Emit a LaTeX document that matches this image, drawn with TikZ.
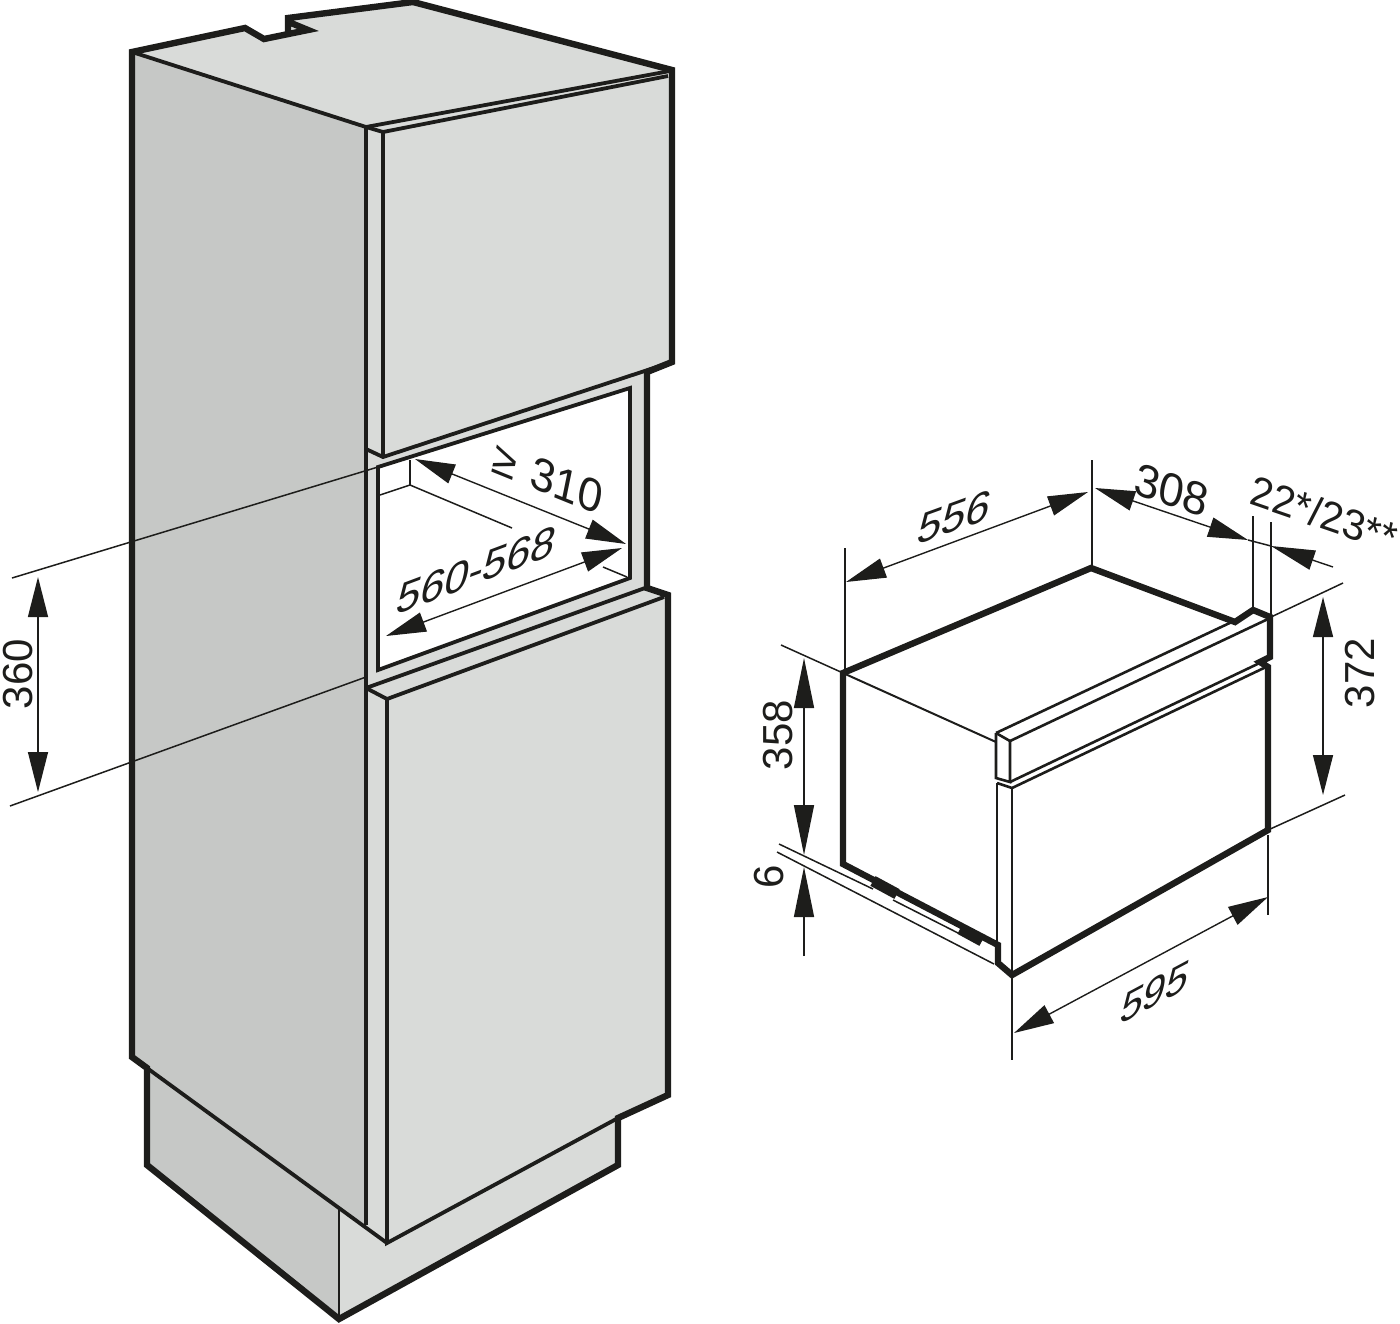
\documentclass[tikz,border=0pt]{standalone}
\usepackage{fontspec}
\setmainfont{Liberation Sans}
\usetikzlibrary{arrows.meta}
\definecolor{ink}{HTML}{1D1D1B}
\definecolor{sidegrey}{HTML}{C6C8C6}
\definecolor{frontgrey}{HTML}{D9DBD9}
\tikzset{
  heavy/.style={draw=ink,line width=3.2pt,line join=miter,line cap=round},
  medium/.style={draw=ink,line width=1.9pt,line join=miter},
  thinpanel/.style={draw=ink,line width=1.3pt,line join=miter},
  fine/.style={draw=ink,line width=.75pt},
  dimline/.style={draw=ink,line width=.7pt,{Triangle[length=20pt,width=10pt]}-{Triangle[length=20pt,width=10pt]}},
  longdim/.style={draw=ink,line width=.7pt,{Triangle[length=25pt,width=10pt]}-{Triangle[length=25pt,width=10pt]}},
  onedim/.style={draw=ink,line width=.7pt,-{Triangle[length=25pt,width=10pt]}},
  endtip/.style={draw=ink,line width=.7pt,-{Triangle[length=22pt,width=10pt]}},
  dimtext/.style={font=\fontsize{21}{21}\selectfont,text=ink,inner sep=0pt},
  tilttext/.style={font=\fontsize{23}{23}\selectfont,text=ink,inner sep=0pt},
  up/.style={dimtext,rotate=90},
}
\begin{document}
\begin{tikzpicture}[x=.5pt,y=-.5pt]
\useasboundingbox (0,0) rectangle (1400,1323);
% ---------- cabinet fills
\fill[sidegrey] (132,52) -- (366,127) -- (366,1225) -- (339,1207) -- (339,1318) -- (147,1165) -- (147,1068) -- (132,1057) -- cycle;
\fill[frontgrey] (132,52) -- (245,28) -- (264,39) -- (288,33) -- (288,18) -- (413,2) -- (670,70) -- (672,362) -- (647,372) -- (647,588) -- (668,595) -- (668,1095) -- (618,1118) -- (618,1165) -- (339,1318) -- (339,1207) -- (366,1225) -- (366,127) -- cycle;
\fill[white] (378,467) -- (630,388) -- (630,578) -- (378,670) -- cycle;
% ---------- opening details
\draw[fine] (410,460) -- (410,485);
\draw[fine] (380,495) -- (410,485) -- (512,528);
\draw[fine] (603,567) -- (627,577);
\draw[medium] (378,670) -- (378,467) -- (630,388) -- (630,578) -- cycle;
% ---------- cabinet lines
\draw[heavy] (288,33) -- (288,18) -- (413,2) -- (672,70) -- (672,362) -- (647,372) -- (647,588) -- (668,595) -- (668,1095) -- (618,1118) -- (618,1165) -- (339,1319) -- (147,1165) -- (147,1068) -- (132,1057) -- (132,52) -- (245,28) -- (264,39) -- (308,30) -- (291,23);
\draw[medium] (132,52) -- (366,127);
\draw[medium] (366,127) -- (670,71);
\draw[medium] (366,127) -- (383,132) -- (668,76);
\draw[medium] (366,127) -- (366,688);
\draw[medium] (383,132) -- (383,457);
\draw[medium] (366,449) -- (383,457) -- (672,362);
\draw[medium] (366,688) -- (645,588);
\draw[medium] (366,688) -- (387,699) -- (664,597);
\draw[medium] (366,688) -- (366,1225);
\draw[medium] (387,699) -- (387,1243) -- (618,1118);
\draw[medium] (147,1068) -- (387,1243);
\draw[thinpanel] (339,1207) -- (339,1318);
% ---------- dimensions of the cabinet
\coordinate (a1) at (12,578); \coordinate (a2) at (378,467);
\coordinate (b1) at (10,806); \coordinate (b2) at (366,677);
\draw[fine] (a1) -- (a2);
\draw[fine] (b1) -- (b2);
\coordinate (h1) at (38,577); \coordinate (h2) at (38,792);
\draw[dimline] (h1) -- (h2);
\node[up] (t360) at (18,674) {360};
\coordinate (d1) at (415,459); \coordinate (d2) at (626,544);
\draw[dimline] (d1) -- (d2);
\node[tilttext,cm={.927,-.375,.2,.98,(0,0)}] (t310) at (548,478) {≥\,\,310};
\coordinate (w1) at (386,636); \coordinate (w2) at (622,548);
\draw[dimline] (w1) -- (w2);
\node[tilttext,cm={.937,.35,.2,.98,(0,0)}] (t560) at (477,570) {560-568};
% ---------- appliance
\fill[white] (843,673) -- (1091,568) -- (1270,617) -- (1268,830) -- (1012,975) -- (997,963) -- (997,945) -- (843,864) -- cycle;
\draw[heavy] (1253,610) -- (1235,622) -- (1091,568) -- (843,673) -- (843,864) -- (998,945) -- (998,963) -- (1012,975) -- (1268,830) -- (1268,667) -- (1260,662) -- (1270,657) -- (1270,617) -- (1253,610);
\draw[fine,line width=1pt] (843,673) -- (996,742);
\draw[thinpanel] (996,733) -- (1253,612);
\draw[thinpanel] (996,733) -- (1010,741) -- (1268,619);
\draw[thinpanel] (996,733) -- (996,778) -- (1010,782) -- (1010,741);
\draw[thinpanel] (1010,782) -- (1268,659);
\draw[thinpanel] (997,783) -- (1012,788) -- (1266,667);
\draw[thinpanel] (997,783) -- (997,945);
\draw[thinpanel] (1012,788) -- (1012,975);
% base feet
\draw[draw=ink,line width=5.5pt] (873,881) -- (897,894);
\draw[draw=ink,line width=5.5pt] (960,929) -- (982,941);
\draw[fine] (779,844) -- (873,889);
\draw[fine] (893,900) -- (960,934);
\draw[fine] (777,852) -- (994,964);
% ---------- dimensions of the appliance
\coordinate (e1) at (845,548); \coordinate (e2) at (845,670);
\coordinate (e3) at (1092,460); \coordinate (e4) at (1092,568);
\draw[fine] (e1) -- (e2);
\draw[fine] (e3) -- (e4);
\coordinate (f1) at (846,582); \coordinate (f2) at (1088,492);
\draw[dimline] (f1) -- (f2);
\node[tilttext,cm={.94,.342,.2,.98,(0,0)}] (t556) at (955,517) {556};
\coordinate (g1) at (1095,488); \coordinate (g2) at (1248,540);
\draw[dimline] (g1) -- (g2);
\node[tilttext,cm={.945,-.325,.2,.98,(0,0)}] (t308) at (1172,490) {308};
\coordinate (k1) at (1253,516); \coordinate (k2) at (1253,609);
\coordinate (k3) at (1271,522); \coordinate (k4) at (1271,617);
\draw[fine] (k1) -- (k2);
\draw[fine] (k3) -- (k4);
\coordinate (m1) at (1333,567); \coordinate (m2) at (1271,546);
\draw[endtip] (m1) -- (m2);
\draw[fine] (g2) -- (m2);
\node[dimtext,cm={.945,-.325,.2,.98,(0,0)}] (t2223) at (1324,514) {22*/23**};
\coordinate (n1) at (1271,617); \coordinate (n2) at (1343,583);
\coordinate (n3) at (1268,830); \coordinate (n4) at (1345,795);
\draw[fine] (n1) -- (n2);
\draw[fine] (n3) -- (n4);
\coordinate (o1) at (1323,597); \coordinate (o2) at (1323,795);
\draw[dimline] (o1) -- (o2);
\node[up] (t372) at (1360,673) {372};
\coordinate (p1) at (781,645); \coordinate (p2) at (843,673);
\draw[fine] (p1) -- (p2);
\coordinate (q1) at (804,658); \coordinate (q2) at (804,855);
\draw[longdim] (q1) -- (q2);
\node[up] (t358) at (778,735) {358};
\coordinate (r1) at (804,956); \coordinate (r2) at (804,867);
\draw[onedim] (r1) -- (r2);
\node[up] (t6) at (769,877) {6};
\coordinate (s1) at (1268,835); \coordinate (s2) at (1268,915);
\coordinate (s3) at (1012,975); \coordinate (s4) at (1012,1060);
\draw[fine] (s1) -- (s2);
\draw[fine] (s3) -- (s4);
\coordinate (u1) at (1014,1033); \coordinate (u2) at (1268,897);
\draw[dimline] (u1) -- (u2);
\node[tilttext,cm={.88,.47,.2,.98,(0,0)}] (t595) at (1155,992) {595};
\end{tikzpicture}
\end{document}
